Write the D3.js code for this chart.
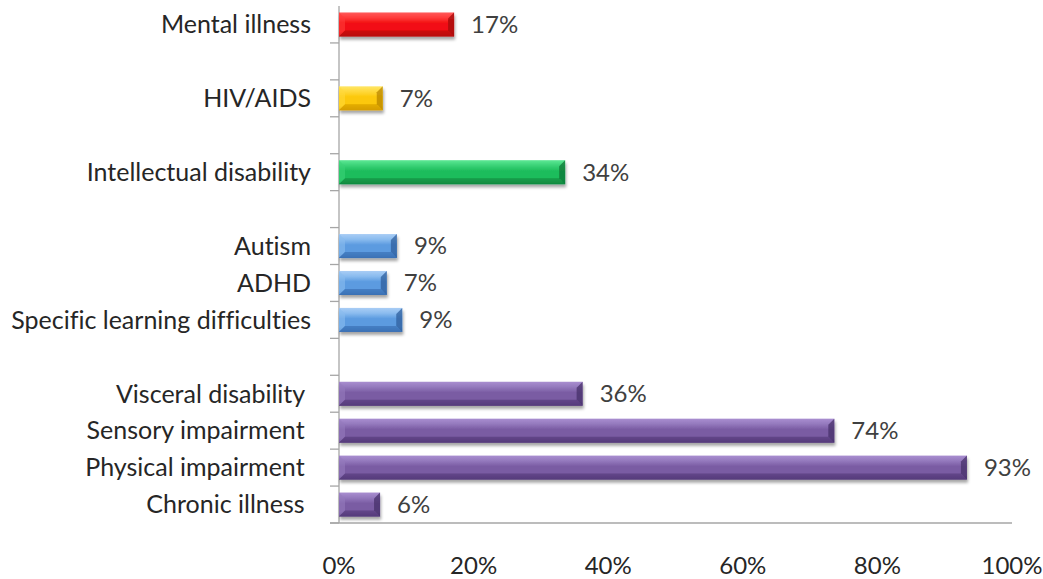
<!DOCTYPE html>
<html>
<head>
<meta charset="utf-8">
<script src="https://cdn.jsdelivr.net/npm/d3@7"></script>
<style>
  html, body { margin: 0; padding: 0; background: #fff; }
  svg { display: block; font-family: Lato, "Open Sans", sans-serif; }
</style>
</head>
<body>
<svg id="chart" width="1043" height="579"></svg>
<script>
// ---- data ----
const categories = [
  "Mental illness", "", "HIV/AIDS", "", "Intellectual disability", "",
  "Autism", "ADHD", "Specific learning difficulties", "",
  "Visceral disability\u00a0", "Sensory impairment\u00a0", "Physical impairment\u00a0", "Chronic illness\u00a0"
];
const values = [17.1, null, 6.5, null, 33.6, null, 8.6, 7.1, 9.4, null, 36.2, 73.6, 93.3, 6.1];
const groups = ["red", null, "yellow", null, "green", null, "blue", "blue", "blue", null, "purple", "purple", "purple", "purple"];
const xTicks = [0, 20, 40, 60, 80, 100];

// ---- styles ----
const palette = {
  red:    { top: "#ff5a5a", base: "#f20f12", bottom: "#b80c0c", light: "#ff3b3b", dark: "#a00808" },
  yellow: { top: "#ffe666", base: "#fcc80a", bottom: "#d69d00", light: "#ffd83a", dark: "#b98500" },
  green:  { top: "#5de895", base: "#1dbd5c", bottom: "#118a40", light: "#3ad277", dark: "#0d7536" },
  blue:   { top: "#a9cdf5", base: "#5b9be0", bottom: "#3a70b5", light: "#8bbcef", dark: "#2f5f9e" },
  purple: { top: "#a98ed0", base: "#7a5ca3", bottom: "#553b7a", light: "#9479bd", dark: "#47306a" }
};

const svg = d3.select("#chart");
const margin = { left: 339, right: 31, top: 6, bottom: 56 };
const W = 1043, H = 579;
const x = d3.scaleLinear().domain([0, 100]).range([margin.left, W - margin.right]);
const ids = categories.map((c, i) => i);
const y = d3.scaleBand().domain(ids).range([margin.top, H - margin.bottom])
  .paddingInner(0.35).paddingOuter(0.175);

const defs = svg.append("defs");
Object.entries(palette).forEach(([k, p]) => {
  const g = defs.append("linearGradient").attr("id", "g-" + k)
    .attr("x1", 0).attr("y1", 0).attr("x2", 0).attr("y2", 1);
  g.append("stop").attr("offset", "0%").attr("stop-color", p.top);
  g.append("stop").attr("offset", "22%").attr("stop-color", p.light);
  g.append("stop").attr("offset", "45%").attr("stop-color", p.base);
  g.append("stop").attr("offset", "80%").attr("stop-color", p.base);
  g.append("stop").attr("offset", "100%").attr("stop-color", p.bottom);
});
const f = defs.append("filter").attr("id", "shadow")
  .attr("x", "-5%").attr("y", "-20%").attr("width", "115%").attr("height", "160%");
f.append("feDropShadow").attr("dx", 1).attr("dy", 3).attr("stdDeviation", 1.8)
  .attr("flood-color", "#000").attr("flood-opacity", 0.35);

// axes lines
const axisColor = "#a6a6a6";
const step = y.step();
const y0 = margin.top, y1 = H - margin.bottom;
svg.append("line").attr("x1", x(0)).attr("x2", x(0)).attr("y1", y0).attr("y2", y1)
  .attr("stroke", axisColor).attr("stroke-width", 1.3);
ids.forEach(i => {
  const ty = y(i) + y.bandwidth() + y.paddingInner() * step / 2;
  svg.append("line").attr("x1", x(0) - 9).attr("x2", x(0)).attr("y1", ty).attr("y2", ty)
    .attr("stroke", axisColor).attr("stroke-width", 1.3);
});
svg.append("line").attr("x1", x(0) - 9).attr("x2", x(100)).attr("y1", y1).attr("y2", y1)
  .attr("stroke", axisColor).attr("stroke-width", 1.3);

// bars
const data = ids.filter(i => values[i] !== null).map(i => ({ i, v: values[i], g: groups[i] }));
const bars = svg.append("g").selectAll("g").data(data).join("g").attr("filter", "url(#shadow)");
bars.append("rect")
  .attr("x", x(0)).attr("y", d => y(d.i))
  .attr("width", d => x(d.v) - x(0)).attr("height", y.bandwidth())
  .attr("fill", d => `url(#g-${d.g})`);
// bevel end caps
const bev = 6;
bars.append("path").attr("d", d => {
  const xe = x(d.v), t = y(d.i), b = t + y.bandwidth();
  return `M${xe},${t} L${xe},${b} L${xe - bev},${b - bev} L${xe - bev},${t + bev} Z`;
}).attr("fill", d => palette[d.g].dark).attr("opacity", 0.75);
bars.append("path").attr("d", d => {
  const xs = x(0), t = y(d.i), b = t + y.bandwidth();
  return `M${xs},${t} L${xs + bev},${t + bev} L${xs + bev},${b - bev} L${xs},${b} Z`;
}).attr("fill", d => palette[d.g].light).attr("opacity", 0.6);
bars.append("path").attr("d", d => {
  const xs = x(0), xe = x(d.v), b = y(d.i) + y.bandwidth();
  return `M${xs},${b} L${xs + bev},${b - bev} L${xe - bev},${b - bev} L${xe},${b} Z`;
}).attr("fill", d => palette[d.g].bottom).attr("opacity", 0.7);

// value labels
svg.append("g").selectAll("text").data(data).join("text")
  .attr("x", d => x(d.v) + 17).attr("y", d => y(d.i) + y.bandwidth() / 2)
  .attr("dy", "0.35em").attr("font-size", 24).attr("fill", "#404040")
  .text(d => Math.round(d.v) + "%");

// category labels
svg.append("g").selectAll("text").data(ids.filter(i => categories[i] !== "")).join("text")
  .attr("x", x(0) - 28).attr("y", i => y(i) + y.bandwidth() / 2)
  .attr("dy", "0.35em").attr("text-anchor", "end").attr("font-size", 25).attr("fill", "#262626")
  .style("white-space", "pre")
  .style("font-variant-ligatures", "none")
  .text(i => categories[i]);

// x tick labels
svg.append("g").selectAll("text").data(xTicks).join("text")
  .attr("x", d => x(d)).attr("y", 566).attr("dy", "0.35em")
  .attr("text-anchor", "middle").attr("font-size", 24).attr("fill", "#262626")
  .text(d => d + "%");
</script>
</body>
</html>
